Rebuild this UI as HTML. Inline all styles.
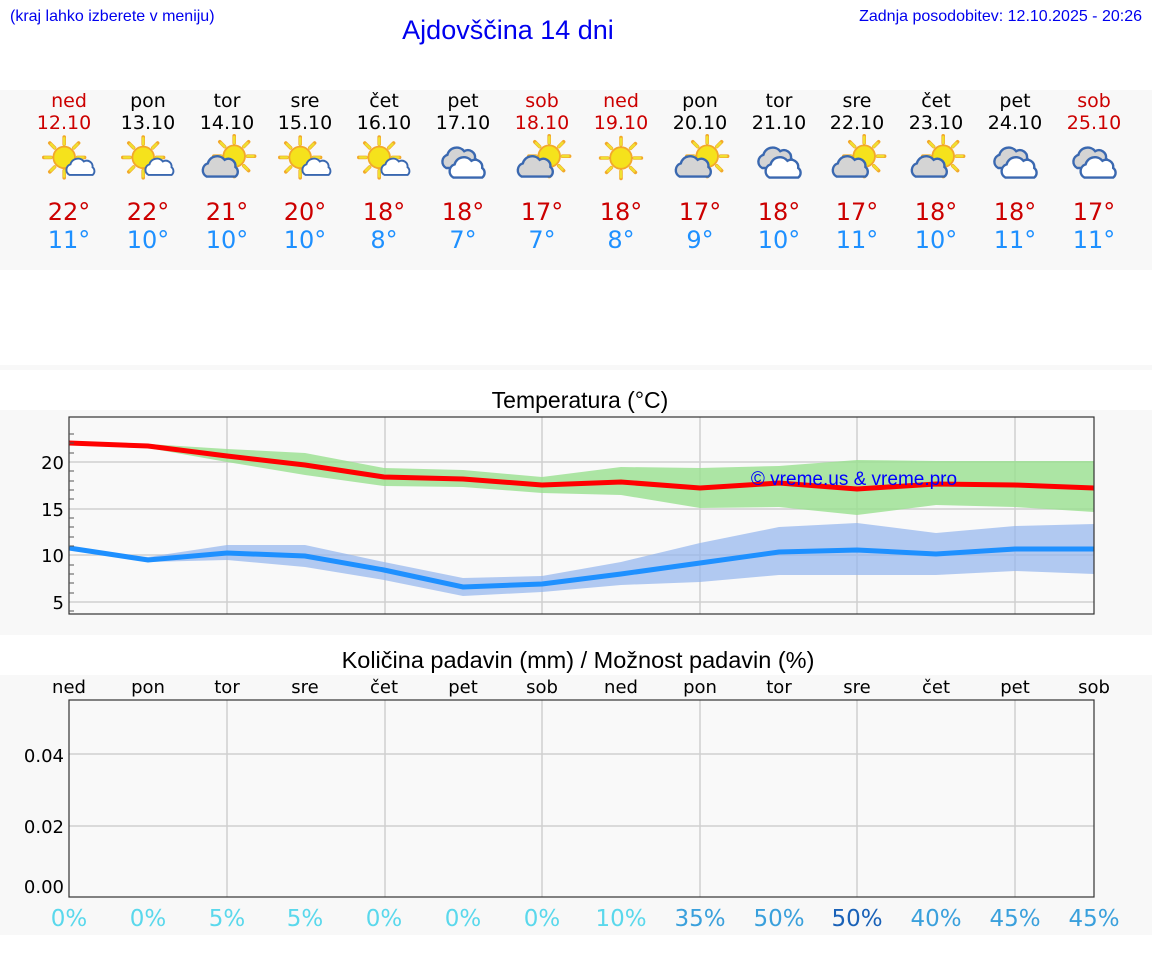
<!DOCTYPE html>
<html><head><meta charset="utf-8"><style>
body{margin:0;background:#fff;width:1152px;height:975px;overflow:hidden}
svg{display:block}
</style></head><body>
<svg width="1152" height="975" viewBox="0 0 1152 975" xmlns="http://www.w3.org/2000/svg">
<defs>
<g id="sun"><g stroke="#f2a82a" stroke-width="3" stroke-linecap="round"><line x1="0" y1="-11" x2="0" y2="-17"/><line x1="0" y1="11" x2="0" y2="17"/><line x1="-11" y1="0" x2="-17" y2="0"/><line x1="11" y1="0" x2="17" y2="0"/><line x1="8" y1="8" x2="12" y2="12"/><line x1="-8" y1="-8" x2="-12" y2="-12"/><line x1="8" y1="-8" x2="12" y2="-12"/><line x1="-8" y1="8" x2="-12" y2="12"/></g><g stroke="#f0e030" stroke-width="2" stroke-linecap="round"><line x1="0" y1="-11" x2="0" y2="-16"/><line x1="0" y1="11" x2="0" y2="16"/><line x1="-11" y1="0" x2="-16" y2="0"/><line x1="11" y1="0" x2="16" y2="0"/><line x1="8" y1="8" x2="11" y2="11"/><line x1="-8" y1="-8" x2="-11" y2="-11"/><line x1="8" y1="-8" x2="11" y2="-11"/><line x1="-8" y1="8" x2="-11" y2="11"/></g><circle r="9" fill="#f5e21c" stroke="#f2a82a" stroke-width="1.5"/></g>
<path id="cl" d="M-12,7 a6,6 0 0 1 1,-11 a8,8 0 0 1 14,-3 a6,6 0 0 1 9,6 a5,5 0 0 1 0,8 z" stroke="#3a68b0" stroke-width="2"/>
<g id="A"><use href="#sun" x="-4" y="-3"/><use href="#cl" x="10" y="6" fill="#fff" transform="translate(10 6) scale(.8) translate(-10 -6)"/></g>
<g id="B"><use href="#sun" x="6" y="-4"/><use href="#cl" x="-5" y="6" fill="#d4d4d4"/></g>
<g id="C"><use href="#cl" x="-2" y="-2" fill="#d4d4d4"/><use href="#cl" x="4" y="6" fill="#fff"/></g>
<g id="D"><use href="#sun" x="0" y="0"/></g>
</defs>
<rect width="1152" height="975" fill="#fff"/>
<text x="10" y="21" font-family="Liberation Sans,sans-serif" font-size="16" fill="#0000ee">(kraj lahko izberete v meniju)</text>
<text x="508" y="39" text-anchor="middle" font-family="Liberation Sans,sans-serif" font-size="27" fill="#0000ee">Ajdovščina 14 dni</text>
<text x="1142" y="21" text-anchor="end" font-family="Liberation Sans,sans-serif" font-size="16" fill="#0000ee">Zadnja posodobitev: 12.10.2025 - 20:26</text>
<rect x="0" y="90" width="1152" height="180" fill="#f8f8f8"/>
<rect x="0" y="365" width="1152" height="5" fill="#f8f8f8"/>
<rect x="0" y="410" width="1152" height="225" fill="#f8f8f8"/>
<rect x="0" y="675" width="1152" height="260" fill="#f8f8f8"/>
<g font-family="DejaVu Sans,sans-serif" font-size="19" text-anchor="middle">
<g fill="#000"><text x="69" y="107" fill="#cc0000">ned</text><text x="148" y="107">pon</text><text x="227" y="107">tor</text><text x="305" y="107">sre</text><text x="384" y="107">čet</text><text x="463" y="107">pet</text><text x="542" y="107" fill="#cc0000">sob</text><text x="621" y="107" fill="#cc0000">ned</text><text x="700" y="107">pon</text><text x="779" y="107">tor</text><text x="857" y="107">sre</text><text x="936" y="107">čet</text><text x="1015" y="107">pet</text><text x="1094" y="107" fill="#cc0000">sob</text></g>
<g fill="#000"><text x="64" y="129" fill="#cc0000">12.10</text><text x="148" y="129">13.10</text><text x="227" y="129">14.10</text><text x="305" y="129">15.10</text><text x="384" y="129">16.10</text><text x="463" y="129">17.10</text><text x="542" y="129" fill="#cc0000">18.10</text><text x="621" y="129" fill="#cc0000">19.10</text><text x="700" y="129">20.10</text><text x="779" y="129">21.10</text><text x="857" y="129">22.10</text><text x="936" y="129">23.10</text><text x="1015" y="129">24.10</text><text x="1094" y="129" fill="#cc0000">25.10</text></g>
<g font-size="24" fill="#cc0000"><text x="69" y="220">22°</text><text x="148" y="220">22°</text><text x="227" y="220">21°</text><text x="305" y="220">20°</text><text x="384" y="220">18°</text><text x="463" y="220">18°</text><text x="542" y="220">17°</text><text x="621" y="220">18°</text><text x="700" y="220">17°</text><text x="779" y="220">18°</text><text x="857" y="220">17°</text><text x="936" y="220">18°</text><text x="1015" y="220">18°</text><text x="1094" y="220">17°</text></g>
<g font-size="24" fill="#1e90ff"><text x="69" y="248">11°</text><text x="148" y="248">10°</text><text x="227" y="248">10°</text><text x="305" y="248">10°</text><text x="384" y="248">8°</text><text x="463" y="248">7°</text><text x="542" y="248">7°</text><text x="621" y="248">8°</text><text x="700" y="248">9°</text><text x="779" y="248">10°</text><text x="857" y="248">11°</text><text x="936" y="248">10°</text><text x="1015" y="248">11°</text><text x="1094" y="248">11°</text></g>
</g>
<g>
<use href="#A" transform="translate(69 161) scale(1.2)"/><use href="#A" transform="translate(148 161) scale(1.2)"/><use href="#B" transform="translate(227 161) scale(1.2)"/><use href="#A" transform="translate(305 161) scale(1.2)"/><use href="#A" transform="translate(384 161) scale(1.2)"/><use href="#C" transform="translate(463 162) scale(1.2)"/><use href="#B" transform="translate(542 161) scale(1.2)"/><use href="#D" transform="translate(621 158) scale(1.2)"/><use href="#B" transform="translate(700 161) scale(1.2)"/><use href="#C" transform="translate(779 162) scale(1.2)"/><use href="#B" transform="translate(857 161) scale(1.2)"/><use href="#B" transform="translate(936 161) scale(1.2)"/><use href="#C" transform="translate(1015 162) scale(1.2)"/><use href="#C" transform="translate(1094 162) scale(1.2)"/>
</g>
<text x="580" y="408" text-anchor="middle" font-family="Liberation Sans,sans-serif" font-size="23" fill="#000">Temperatura (°C)</text>
<rect x="69" y="417" width="1025" height="197" fill="#f9f9f9"/>
<g stroke="#d0d0d0" stroke-width="1.5">
<line x1="69" y1="462" x2="1094" y2="462"/><line x1="69" y1="509" x2="1094" y2="509"/><line x1="69" y1="555" x2="1094" y2="555"/><line x1="69" y1="602" x2="1094" y2="602"/>
<line x1="227" y1="417" x2="227" y2="614"/><line x1="385" y1="417" x2="385" y2="614"/><line x1="542" y1="417" x2="542" y2="614"/><line x1="700" y1="417" x2="700" y2="614"/><line x1="857" y1="417" x2="857" y2="614"/><line x1="1015" y1="417" x2="1015" y2="614"/>
</g>
<polygon fill="#99e08e" opacity=".8" points="69,443 148,444 227,449 305,453 384,468 463,470 542,477 621,467 700,468 779,466 857,460 936,461 1015,461 1094,461 1094,512 1015,507 936,505 857,515 779,507 700,508 621,495 542,493 463,487 384,486 305,475 227,462 148,448 69,443"/>
<polygon fill="#93b5ee" opacity=".7" points="69,548 148,557 227,545 305,545 384,562 463,578 542,576 621,562 700,543 779,527 857,523 936,533 1015,526 1094,524 1094,574 1015,571 936,575 857,575 779,575 700,582 621,585 542,592 463,596 384,580 305,567 227,560 148,562 69,548"/>
<polyline fill="none" stroke="#ff0000" stroke-width="5" points="69,443 148,446 227,456 305,465 384,477 463,479 542,485 621,482 700,488 779,483 857,489 936,484 1015,485 1094,488"/>
<polyline fill="none" stroke="#1e90ff" stroke-width="5" points="69,548 148,560 227,553 305,556 384,570 463,587 542,584 621,574 700,563 779,552 857,550 936,554 1015,549 1094,549"/>
<text x="854" y="485" text-anchor="middle" font-family="Liberation Sans,sans-serif" font-size="19" fill="#0000ff">© vreme.us &amp; vreme.pro</text>
<rect x="69" y="417" width="1025" height="197" fill="none" stroke="#333" stroke-width="1.2"/>
<g stroke="#555" stroke-width="1"><line x1="69" y1="434" x2="74" y2="434"/><line x1="69" y1="443" x2="74" y2="443"/><line x1="69" y1="453" x2="74" y2="453"/><line x1="69" y1="471" x2="74" y2="471"/><line x1="69" y1="481" x2="74" y2="481"/><line x1="69" y1="490" x2="74" y2="490"/><line x1="69" y1="499" x2="74" y2="499"/><line x1="69" y1="518" x2="74" y2="518"/><line x1="69" y1="527" x2="74" y2="527"/><line x1="69" y1="537" x2="74" y2="537"/><line x1="69" y1="546" x2="74" y2="546"/><line x1="69" y1="565" x2="74" y2="565"/><line x1="69" y1="574" x2="74" y2="574"/><line x1="69" y1="583" x2="74" y2="583"/><line x1="69" y1="593" x2="74" y2="593"/><line x1="69" y1="611" x2="74" y2="611"/></g>
<g font-family="DejaVu Sans,sans-serif" font-size="18" fill="#000" text-anchor="end"><text x="64" y="469">20</text><text x="64" y="516">15</text><text x="64" y="562">10</text><text x="64" y="609">5</text></g>
<text x="578" y="668" text-anchor="middle" font-family="Liberation Sans,sans-serif" font-size="23.5" fill="#000">Količina padavin (mm) / Možnost padavin (%)</text>
<g font-family="DejaVu Sans,sans-serif" font-size="18" fill="#000" text-anchor="middle"><text x="69" y="693">ned</text><text x="148" y="693">pon</text><text x="227" y="693">tor</text><text x="305" y="693">sre</text><text x="384" y="693">čet</text><text x="463" y="693">pet</text><text x="542" y="693">sob</text><text x="621" y="693">ned</text><text x="700" y="693">pon</text><text x="779" y="693">tor</text><text x="857" y="693">sre</text><text x="936" y="693">čet</text><text x="1015" y="693">pet</text><text x="1094" y="693">sob</text></g>
<rect x="69" y="700" width="1025" height="197" fill="#f9f9f9"/>
<g stroke="#d0d0d0" stroke-width="1.5">
<line x1="69" y1="754" x2="1094" y2="754"/><line x1="69" y1="826" x2="1094" y2="826"/>
<line x1="227" y1="700" x2="227" y2="897"/><line x1="385" y1="700" x2="385" y2="897"/><line x1="542" y1="700" x2="542" y2="897"/><line x1="700" y1="700" x2="700" y2="897"/><line x1="857" y1="700" x2="857" y2="897"/><line x1="1015" y1="700" x2="1015" y2="897"/>
</g>
<rect x="69" y="700" width="1025" height="197" fill="none" stroke="#333" stroke-width="1.2"/>
<g font-family="DejaVu Sans,sans-serif" font-size="18" fill="#000" text-anchor="end"><text x="64" y="762">0.04</text><text x="64" y="833">0.02</text><text x="64" y="893">0.00</text></g>
<g font-family="DejaVu Sans,sans-serif" font-size="23" text-anchor="middle"><text x="69" y="926" fill="#5ad8ec">0%</text><text x="148" y="926" fill="#5ad8ec">0%</text><text x="227" y="926" fill="#5ad8ec">5%</text><text x="305" y="926" fill="#5ad8ec">5%</text><text x="384" y="926" fill="#5ad8ec">0%</text><text x="463" y="926" fill="#5ad8ec">0%</text><text x="542" y="926" fill="#5ad8ec">0%</text><text x="621" y="926" fill="#5ad8ec">10%</text><text x="700" y="926" fill="#3aa0dc">35%</text><text x="779" y="926" fill="#3aa0dc">50%</text><text x="857" y="926" fill="#1a62b8">50%</text><text x="936" y="926" fill="#3aa0dc">40%</text><text x="1015" y="926" fill="#3aa0dc">45%</text><text x="1094" y="926" fill="#3aa0dc">45%</text></g>
</svg>
</body></html>
